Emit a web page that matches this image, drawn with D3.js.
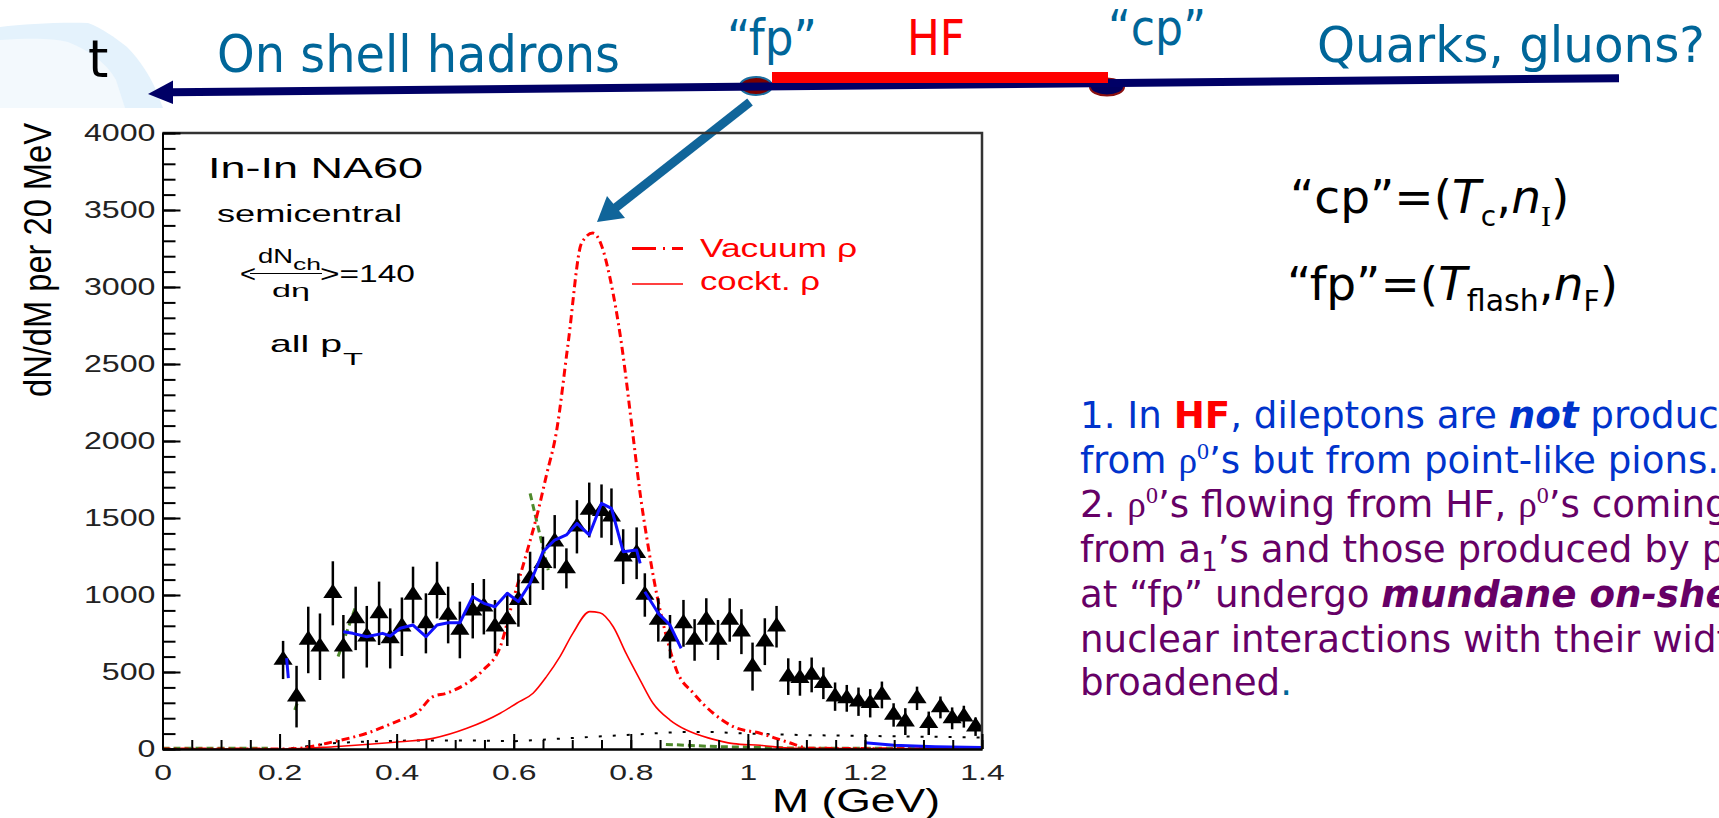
<!DOCTYPE html>
<html>
<head>
<meta charset="utf-8">
<script src="https://cdn.jsdelivr.net/npm/d3@7/dist/d3.min.js"></script>
<style>
  body { margin: 0; background: #fff; }
  svg { display: block; }
</style>
</head>
<body>
<div id="slide"></div>
<script>
'use strict'

// NA60 In-In data points (M in GeV, dN/dM per 20 MeV)
var dataMass = [0.206, 0.229, 0.249, 0.269, 0.291, 0.309, 0.330, 0.349, 0.370, 0.389,
  0.409, 0.428, 0.450, 0.469, 0.488, 0.508, 0.530, 0.549, 0.568, 0.589,
  0.608, 0.628, 0.650, 0.670, 0.690, 0.708, 0.729, 0.750, 0.767, 0.787,
  0.810, 0.824, 0.847, 0.867, 0.890, 0.909, 0.929, 0.949, 0.969, 0.989,
  1.008, 1.029, 1.049, 1.069, 1.089, 1.109, 1.129, 1.149, 1.169, 1.189,
  1.209, 1.229, 1.249, 1.269, 1.289, 1.309, 1.329, 1.349, 1.369, 1.389];
var dataYield = [578, 340, 708, 664, 1011, 664, 848, 729, 881, 718,
  794, 1000, 816, 1032, 870, 773, 898, 924, 794, 842,
  967, 1108, 1206, 1346, 1173, 1443, 1552, 1545, 1508, 1249,
  1271, 1000, 838, 729, 816, 708, 838, 708, 838, 762,
  535, 697, 794, 470, 459, 481, 427, 340, 329, 307,
  297, 351, 221, 178, 329, 167, 270, 199, 210, 145];
var dataErr = [124, 200, 216, 216, 208, 206, 206, 200, 206, 195,
  190, 184, 195, 184, 184, 184, 180, 180, 173, 173,
  173, 173, 173, 173, 130, 173, 178, 173, 184, 178,
  168, 141, 141, 141, 152, 135, 141, 130, 141, 146,
  156, 152, 135, 119, 113, 113, 103, 92, 87, 92,
  92, 87, 76, 87, 76, 76, 71, 71, 71, 60];

// vacuum rho (dash-dot)
var vacuumMass = [0, 0.21, 0.235, 0.292, 0.349, 0.406, 0.434, 0.462, 0.485, 0.520,
  0.548, 0.577, 0.599, 0.622, 0.640, 0.656, 0.673, 0.693, 0.716, 0.735,
  0.750, 0.764, 0.784, 0.803, 0.817, 0.827, 0.844, 0.861, 0.878, 0.907,
  0.941, 0.975, 1.021, 1.066, 1.106, 1.4];
var vacuumYield = [0, 0, 5, 47, 102, 188, 232, 340, 362, 427,
  513, 664, 967, 1272, 1520, 1780, 2060, 2636, 3286, 3350,
  3270, 3067, 2634, 2060, 1630, 1379, 1011, 729, 513, 362,
  232, 145, 102, 47, 5, 0];

// cocktail rho (thin solid)
var cocktailMass = [0, 0.21, 0.292, 0.406, 0.462, 0.520, 0.577, 0.605, 0.633, 0.656,
  0.679, 0.701, 0.730, 0.747, 0.770, 0.792, 0.816, 0.838, 0.867, 0.895,
  0.935, 0.975, 1.021, 1.078, 1.4];
var cocktailYield = [0, 0, 15, 47, 69, 134, 232, 297, 362, 470,
  600, 751, 892, 885, 794, 621, 448, 297, 188, 123,
  69, 35, 24, 5, 0];

// blue model line
var fitMass = [0.309, 0.325, 0.349, 0.376, 0.389, 0.406, 0.428, 0.450, 0.469, 0.488,
  0.508, 0.530, 0.549, 0.568, 0.589, 0.608, 0.628, 0.650, 0.670, 0.690,
  0.708, 0.729, 0.750, 0.767, 0.787, 0.810, 0.816];
var fitYield = [762, 751, 729, 751, 734, 784, 805, 729, 805, 820,
  820, 989, 946, 924, 1011, 957, 1076, 1281, 1357, 1390,
  1465, 1390, 1595, 1563, 1281, 1292, 1206];
var fitTailMass = [0.824, 0.847, 0.867, 0.886];
var fitTailYield = [1021, 881, 805, 654];
var fitHeadMass = [0.212, 0.215];
var fitHeadYield = [590, 460];
var fitLowMass = [1.2, 1.25, 1.32, 1.4];
var fitLowYield = [40, 25, 15, 10];

// green dashed pieces
var greenMass = [[0.226, 0.232], [0.300, 0.331], [0.628, 0.659], [0, 0.18], [0.86, 0.95, 1.1, 1.4]];
var greenYield = [[253, 318], [600, 935], [1660, 1162], [5, 5], [30, 15, 5, 5]];

// black dotted background near zero
var bkgMass = [0.22, 0.26, 0.30, 0.36, 0.42, 0.48, 0.54, 0.60, 0.88, 0.94, 1.0, 1.1, 1.2, 1.3, 1.4];
var bkgYield = [5, 25, 40, 50, 55, 55, 55, 50, 110, 110, 100, 90, 85, 80, 75];

var yTicks = [0, 500, 1000, 1500, 2000, 2500, 3000, 3500, 4000];
var xTicks = [0, 0.2, 0.4, 0.6, 0.8, 1.0, 1.2, 1.4];
var xTickLabels = ['0', '0.2', '0.4', '0.6', '0.8', '1', '1.2', '1.4'];

var ARIAL = 'Liberation Sans, Arial, sans-serif';
var SANS = 'DejaVu Sans, Verdana, sans-serif';
var SERIF = 'Liberation Serif, Times New Roman, serif';
var TEAL = '#006699';
var BLUE = '#0033cc';
var PURPLE = '#660066';

var W = 1719, H = 818;
var plot = { left: 162.5, right: 982, top: 133, bottom: 749 };

var svg = d3.select('#slide').append('svg')
  .attr('width', W)
  .attr('height', H);

svg.append('rect').attr('width', W).attr('height', H).attr('fill', '#fff');

function label(parent, str, x, y, o) {
  var t = parent.append('text')
    .attr('x', x)
    .attr('y', y)
    .attr('font-family', o.font || ARIAL)
    .attr('font-size', o.size)
    .attr('fill', o.color || '#000')
    .text(str);
  if (o.width) t.attr('textLength', o.width).attr('lengthAdjust', 'spacingAndGlyphs');
  if (o.anchor) t.attr('text-anchor', o.anchor);
  return t;
}

// text line made of styled pieces (sub/superscripts via shift)
function richLine(line) {
  var t = svg.append('text')
    .attr('x', line.x)
    .attr('y', line.y)
    .attr('font-family', SANS)
    .attr('font-size', line.size);
  var prev = 0;
  line.parts.forEach(function(p) {
    var shift = p.shift || 0;
    var ts = t.append('tspan')
      .attr('fill', p.c || '#000')
      .attr('dy', shift - prev)
      .text(p.t);
    if (p.w) ts.attr('font-weight', p.w);
    if (p.s) ts.attr('font-style', p.s);
    if (p.f) ts.attr('font-family', p.f);
    if (p.size) ts.attr('font-size', p.size);
    prev = shift;
  });
}

// ---------- timeline across the top ----------
svg.append('path')
  .attr('d', 'M0,27 C25,24 60,22 88,23 C102,28 114,37 127,47 C140,60 150,76 156,90 L163,108 L0,108 Z')
  .attr('fill', '#e4f2fc');
svg.append('path')
  .attr('d', 'M0,40 C30,38 52,38 68,42 C88,50 106,62 116,80 L125,108 L0,108 Z')
  .attr('fill', '#f3f9fd');

label(svg, 't', 88, 77, { font: SANS, size: 52 });
label(svg, 'On shell hadrons', 217, 72, { font: SANS, size: 52, width: 403, color: TEAL });
label(svg, '\u201cfp\u201d', 727, 55, { font: SANS, size: 50, width: 90, color: TEAL });
label(svg, 'HF', 907, 55, { font: SANS, size: 50, width: 58, color: '#ff0000' });
label(svg, '\u201ccp\u201d', 1108, 45, { font: SANS, size: 50, width: 98, color: TEAL });
label(svg, 'Quarks, gluons?', 1317, 62, { font: SANS, size: 50, width: 388, color: TEAL });

svg.append('ellipse')
  .attr('cx', 756).attr('cy', 86).attr('rx', 16).attr('ry', 9)
  .attr('fill', '#7a0000').attr('stroke', '#1a6ea0').attr('stroke-width', 2);
svg.append('ellipse')
  .attr('cx', 1107).attr('cy', 87).attr('rx', 17).attr('ry', 8.5)
  .attr('fill', '#00005f').attr('stroke', '#8b1010').attr('stroke-width', 2);

svg.append('line')
  .attr('x1', 170).attr('y1', 92.3).attr('x2', 1619).attr('y2', 78.2)
  .attr('stroke', '#000066').attr('stroke-width', 8);
svg.append('path')
  .attr('d', 'M148,94 L173,80.5 L173,104 Z')
  .attr('fill', '#000066');
svg.append('rect')
  .attr('x', 772).attr('y', 72).attr('width', 336).attr('height', 11)
  .attr('fill', '#ff0000');

// arrow from "fp" down to the vacuum peak
svg.append('line')
  .attr('x1', 750).attr('y1', 102).attr('x2', 614).attr('y2', 209)
  .attr('stroke', '#10659a').attr('stroke-width', 9);
svg.append('path')
  .attr('d', 'M597,222 L607,196 L625,218 Z')
  .attr('fill', '#10659a');

// ---------- plot ----------
var x = d3.scaleLinear().domain([0, 1.4]).range([plot.left, plot.right]);
var y = d3.scaleLinear().domain([0, 4000]).range([plot.bottom, plot.top]);

svg.append('defs').append('clipPath').attr('id', 'plot-clip')
  .append('rect')
  .attr('x', plot.left).attr('y', plot.top)
  .attr('width', plot.right - plot.left).attr('height', plot.bottom - plot.top);

var chart = svg.append('g').attr('clip-path', 'url(#plot-clip)');

function curve(mass, vals, kind) {
  return d3.line()
    .x(function(d) { return x(d); })
    .y(function(d, i) { return y(vals[i]); })
    .curve(kind || d3.curveLinear)(mass);
}

// near-zero background pieces
chart.append('path')
  .attr('d', curve(bkgMass, bkgYield))
  .attr('fill', 'none').attr('stroke', '#000').attr('stroke-width', 2)
  .attr('stroke-dasharray', '3,11');
greenMass.forEach(function(m, i) {
  chart.append('path')
    .attr('d', curve(m, greenYield[i]))
    .attr('fill', 'none').attr('stroke', '#4f8a2c').attr('stroke-width', 3)
    .attr('stroke-dasharray', '7,4');
});

chart.append('path')
  .attr('d', curve(vacuumMass, vacuumYield, d3.curveMonotoneX))
  .attr('fill', 'none').attr('stroke', '#ff0000').attr('stroke-width', 3)
  .attr('stroke-dasharray', '8,4,2,4');

chart.append('path')
  .attr('d', curve(cocktailMass, cocktailYield, d3.curveMonotoneX))
  .attr('fill', 'none').attr('stroke', '#ff0000').attr('stroke-width', 1.6);

// data: error bars + triangles
var pts = chart.append('g');
pts.selectAll('line')
  .data(dataMass)
  .enter()
  .append('line')
  .attr('x1', function(d) { return x(d); })
  .attr('x2', function(d) { return x(d); })
  .attr('y1', function(d, i) { return y(dataYield[i] - dataErr[i]); })
  .attr('y2', function(d, i) { return y(dataYield[i] + dataErr[i]); })
  .attr('stroke', '#000').attr('stroke-width', 2.5);

pts.selectAll('path')
  .data(dataMass)
  .enter()
  .append('path')
  .attr('d', d3.symbol().type(d3.symbolTriangle).size(120))
  .attr('transform', function(d, i) {
    return 'translate(' + x(d) + ',' + y(dataYield[i]) + ') scale(1.15,1)';
  })
  .attr('fill', '#000');

[[fitMass, fitYield], [fitTailMass, fitTailYield], [fitHeadMass, fitHeadYield], [fitLowMass, fitLowYield]]
  .forEach(function(s) {
    chart.append('path')
      .attr('d', curve(s[0], s[1]))
      .attr('fill', 'none').attr('stroke', '#1010ff').attr('stroke-width', 3)
      .attr('stroke-linejoin', 'round');
  });

// frame
svg.append('path')
  .attr('d', 'M' + plot.left + ',' + plot.top + 'H' + plot.right + 'V' + plot.bottom)
  .attr('fill', 'none').attr('stroke', '#333').attr('stroke-width', 2.5);

// axes (ticks point inward, ROOT style)
var yMinor = svg.append('g')
  .attr('transform', 'translate(' + plot.left + ',0)')
  .call(d3.axisLeft(y).tickValues(d3.range(0, 4001, 100)).tickSize(-13).tickSizeOuter(0).tickFormat(''));
var yMajor = svg.append('g')
  .attr('transform', 'translate(' + plot.left + ',0)')
  .call(d3.axisLeft(y).tickValues(yTicks).tickSize(-18).tickSizeOuter(0).tickPadding(5)
    .tickFormat(d3.format('d')));
var xMinor = svg.append('g')
  .attr('transform', 'translate(0,' + plot.bottom + ')')
  .call(d3.axisBottom(x).tickValues(d3.range(0, 1.401, 0.05)).tickSize(-9).tickSizeOuter(0).tickFormat(''));
var xMajor = svg.append('g')
  .attr('transform', 'translate(0,' + plot.bottom + ')')
  .call(d3.axisBottom(x).tickValues(xTicks).tickSize(-15).tickSizeOuter(0).tickPadding(15)
    .tickFormat(function(d, i) { return xTickLabels[i]; }));

[yMinor, yMajor, xMinor, xMajor].forEach(function(g) {
  g.selectAll('line, path').attr('stroke', '#000').attr('stroke-width', 2);
  g.attr('font-family', ARIAL).attr('font-size', 23);
});
yMajor.selectAll('text').attr('fill', '#222').attr('transform', 'scale(1.4,1)');
xMajor.selectAll('text').attr('fill', '#222').attr('font-size', 22).attr('transform', 'scale(1.45,1)');

label(svg, 'M (GeV)', 772, 812, { size: 33, width: 168 });
label(svg, 'dN/dM per 20 MeV', 0, 0, { size: 38, width: 274, anchor: 'middle' })
  .attr('transform', 'translate(51,260) rotate(-90)');

// in-plot annotations
label(svg, 'In-In NA60', 208, 178, { size: 30, width: 215 });
label(svg, 'semicentral', 217, 222, { size: 23, width: 185 });
label(svg, '<', 240, 281.5, { size: 23, width: 16 });
svg.append('line')
  .attr('x1', 250).attr('x2', 322).attr('y1', 273.5).attr('y2', 273.5)
  .attr('stroke', '#000').attr('stroke-width', 1.2);
label(svg, 'dN', 258, 262.5, { size: 20, width: 35 });
label(svg, 'ch', 293, 269.5, { size: 16, width: 28 });
label(svg, 'd\u03b7', 272, 296.5, { size: 18, width: 38 });
label(svg, '>=140', 320, 281.5, { size: 23, width: 95 });
label(svg, 'all p', 270, 352, { size: 24, width: 72 });
label(svg, 'T', 343, 365, { size: 17, width: 20 });

// legend
svg.append('line')
  .attr('x1', 632).attr('x2', 683).attr('y1', 248.5).attr('y2', 248.5)
  .attr('stroke', '#ff0000').attr('stroke-width', 3).attr('stroke-dasharray', '24,7,2,7');
svg.append('line')
  .attr('x1', 632).attr('x2', 683).attr('y1', 284).attr('y2', 284)
  .attr('stroke', '#ff0000').attr('stroke-width', 1.6);
label(svg, 'Vacuum \u03c1', 700, 257, { size: 25, width: 157, color: '#ff0000' });
label(svg, 'cockt. \u03c1', 700, 290, { size: 25, width: 120, color: '#ff0000' });

// ---------- formulas on the right ----------
richLine({ x: 1290, y: 213, size: 47, parts: [
  { t: '\u201ccp\u201d=(' }, { t: 'T', s: 'italic' }, { t: 'c', size: 28, shift: 13 },
  { t: ',' }, { t: 'n', s: 'italic' }, { t: 'I', f: SERIF, size: 30, shift: 13 }, { t: ')' }] });
richLine({ x: 1287, y: 300, size: 47, parts: [
  { t: '\u201cfp\u201d=(' }, { t: 'T', s: 'italic' }, { t: 'flash', size: 30, shift: 11 },
  { t: ',' }, { t: 'n', s: 'italic' }, { t: 'F', size: 28, shift: 11 }, { t: ')' }] });

// ---------- explanatory text ----------
var textLines = [
  { y: 428, parts: [
    { t: '1. In ', c: BLUE }, { t: 'HF', c: '#ff0000', w: 'bold' }, { t: ', dileptons are ', c: BLUE },
    { t: 'not', c: BLUE, w: 'bold', s: 'italic' }, { t: ' produced', c: BLUE }] },
  { y: 472.5, parts: [
    { t: 'from ', c: BLUE }, { t: '\u03c1', c: BLUE, f: SERIF }, { t: '0', c: BLUE, f: SERIF, size: 24, shift: -14 },
    { t: '\u2019s but from point-like pions.', c: BLUE }] },
  { y: 516.5, parts: [
    { t: '2. ', c: PURPLE }, { t: '\u03c1', c: PURPLE, f: SERIF }, { t: '0', c: PURPLE, f: SERIF, size: 24, shift: -14 },
    { t: '\u2019s flowing from HF, ', c: PURPLE }, { t: '\u03c1', c: PURPLE, f: SERIF },
    { t: '0', c: PURPLE, f: SERIF, size: 24, shift: -14 }, { t: '\u2019s coming', c: PURPLE }] },
  { y: 561.5, parts: [
    { t: 'from a', c: PURPLE }, { t: '1', c: PURPLE, size: 26, shift: 9 },
    { t: '\u2019s and those produced by pions', c: PURPLE }] },
  { y: 606.5, parts: [
    { t: 'at \u201cfp\u201d undergo ', c: PURPLE }, { t: 'mundane on-shell', c: PURPLE, w: 'bold', s: 'italic' }] },
  { y: 651.5, parts: [{ t: 'nuclear interactions with their widths', c: PURPLE }] },
  { y: 695, parts: [{ t: 'broadened', c: PURPLE }, { t: '.', c: TEAL }] }
];

textLines.forEach(function(line) {
  richLine({ x: 1080, y: line.y, size: 37.2, parts: line.parts });
});
</script>
</body>
</html>
